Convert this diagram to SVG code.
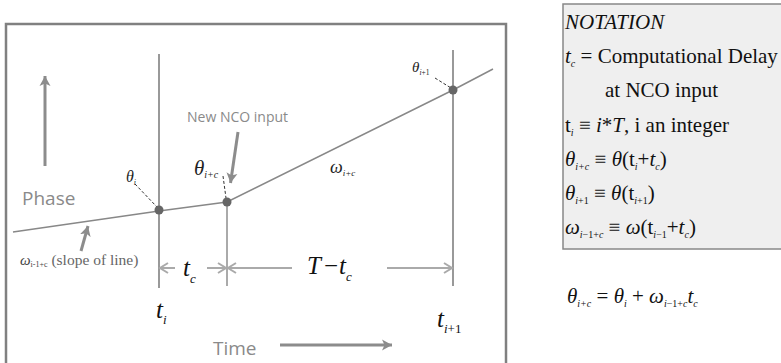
<svg xmlns="http://www.w3.org/2000/svg" width="781" height="363" viewBox="0 0 781 363">
<defs>
<style>
.ser{font-family:"Liberation Serif","Times New Roman",serif;}
.it{font-style:italic;}
.san{font-family:"Open Sans","Noto Sans",sans-serif;fill:#8a8a8a;}
.grid{stroke:#999;stroke-width:2;fill:none;}
.dim{stroke:#aaa;stroke-width:2;fill:none;}
.big{stroke:#8c8c8c;stroke-width:3;fill:none;}
.lead{stroke:#333;stroke-width:1;stroke-dasharray:3,2;fill:none;}
.dot{fill:#666;}
</style>
<marker id="chev" viewBox="-10 -6 12 12" refX="0" refY="0" markerWidth="12" markerHeight="12" markerUnits="userSpaceOnUse" orient="auto"><path d="M-8,-5 L0,0 L-8,5" fill="none" stroke="#aaa" stroke-width="2"/></marker>
<marker id="arr" viewBox="-10 -6 12 12" refX="0" refY="0" markerWidth="12" markerHeight="12" markerUnits="userSpaceOnUse" orient="auto"><path d="M-10,-5.5 L0,0 L-10,5.5 L-7.5,0 z" fill="#8c8c8c"/></marker>
</defs>
<rect width="781" height="363" fill="#fff"/>

<g id="plot-frame">
<rect x="6" y="24" width="500" height="342" fill="#fff" stroke="#808080" stroke-width="2.5"/>
</g>

<g id="connectors">
<line class="grid" x1="159" y1="54" x2="159" y2="288"/>
<line class="dim" x1="227" y1="202" x2="227" y2="286" stroke="#bbb"/>
<line class="grid" x1="453" y1="50" x2="453" y2="286"/>
<polyline points="13,232 159,211 227,202 453,90 493,69" fill="none" stroke="#888" stroke-width="1.5"/>
<line class="big" x1="45" y1="166" x2="45" y2="76" marker-end="url(#arr)"/>
<line class="big" x1="280" y1="345" x2="392" y2="345" marker-end="url(#arr)"/>
<line class="big" x1="238" y1="132" x2="230.5" y2="183" marker-end="url(#arr)"/>
<line class="big" stroke-width="2.5" x1="81" y1="251" x2="88" y2="226" marker-end="url(#arr)"/>
<line class="dim" x1="175" y1="268" x2="160" y2="268" marker-end="url(#chev)"/>
<line class="dim" x1="207" y1="268" x2="226" y2="268" marker-end="url(#chev)"/>
<line class="dim" x1="292" y1="268" x2="228" y2="268" marker-end="url(#chev)"/>
<line class="dim" x1="387" y1="268" x2="452" y2="268" marker-end="url(#chev)"/>
<line class="lead" x1="135" y1="184" x2="157" y2="207"/>
<line class="lead" x1="223" y1="176" x2="226" y2="198"/>
<line class="lead" x1="435" y1="78" x2="451" y2="88"/>
</g>

<g id="point-ti"><circle class="dot" cx="159" cy="210" r="4.5"/></g>
<g id="point-tc"><circle class="dot" cx="227" cy="202" r="4.5"/></g>
<g id="point-ti1"><circle class="dot" cx="453" cy="90" r="4.5"/></g>

<g id="labels">
<text class="san" x="22" y="205" font-size="19">Phase</text>
<text class="san" x="213" y="355" font-size="19">Time</text>
<text class="san" x="187" y="122" font-size="14">New NCO input</text>
<text class="ser it" x="126" y="182" font-size="16" fill="#222">θ<tspan font-size="8" dy="3">i</tspan></text>
<text class="ser it" x="194" y="175" font-size="21" fill="#222">θ<tspan font-size="10" dy="3">i+c</tspan></text>
<text class="ser it" x="412" y="72" font-size="15" fill="#222">θ<tspan font-size="7.5" dy="3"><tspan>i</tspan><tspan font-style="normal">+1</tspan></tspan></text>
<text class="ser it" x="330" y="173" font-size="18" fill="#222">ω<tspan font-size="9" dy="3">i+c</tspan></text>
<text class="ser" x="20" y="265" font-size="15" fill="#444"><tspan font-style="italic">ω</tspan><tspan font-size="8" dy="2">i-1+c</tspan><tspan dy="-2" fill="#666" font-size="15.5"> (slope of line)</tspan></text>
<text class="ser it" x="183" y="276" font-size="25" fill="#111">t<tspan font-size="13" dy="7">c</tspan></text>
<text class="ser it" x="307" y="274" font-size="25" fill="#111">T<tspan font-style="normal" dx="3">−</tspan><tspan dx="1">t</tspan><tspan font-size="13" dy="7">c</tspan></text>
<text class="ser it" x="156" y="318" font-size="25" fill="#111">t<tspan font-size="13" dy="6">i</tspan></text>
<text class="ser it" x="437" y="327" font-size="25" fill="#111">t<tspan font-size="13" dy="6">i<tspan font-style="normal">+1</tspan></tspan></text>
</g>

<g id="notation">
<rect x="563" y="4" width="220" height="245" fill="#efefef" stroke="#888" stroke-width="1.5"/>
<g class="ser" font-size="21" fill="#111">
<text x="565" y="29" font-style="italic">NOTATION</text>
<text x="565" y="63"><tspan font-style="italic">t</tspan><tspan font-size="10" dy="4" font-style="italic">c</tspan><tspan dy="-4"> = Computational Delay</tspan></text>
<text x="605" y="97">at NCO input</text>
<text x="565" y="132">t<tspan font-size="10" dy="4" font-style="italic">i</tspan><tspan dy="-4"> ≡ </tspan><tspan font-style="italic">i</tspan>*<tspan font-style="italic">T</tspan>, i an integer</text>
<text x="565" y="166"><tspan font-style="italic">θ</tspan><tspan font-size="10" dy="4" font-style="italic">i+c</tspan><tspan dy="-4"> ≡ </tspan><tspan font-style="italic">θ</tspan>(t<tspan font-size="10" dy="4" font-style="italic">i</tspan><tspan dy="-4">+</tspan><tspan font-style="italic">t</tspan><tspan font-size="10" dy="4" font-style="italic">c</tspan><tspan dy="-4">)</tspan></text>
<text x="565" y="200"><tspan font-style="italic">θ</tspan><tspan font-size="10" dy="4"><tspan font-style="italic">i</tspan>+1</tspan><tspan dy="-4"> ≡ </tspan><tspan font-style="italic">θ</tspan>(t<tspan font-size="10" dy="4"><tspan font-style="italic">i</tspan>+1</tspan><tspan dy="-4">)</tspan></text>
<text x="565" y="234"><tspan font-style="italic">ω</tspan><tspan font-size="10" dy="4"><tspan font-style="italic">i</tspan>−1+<tspan font-style="italic">c</tspan></tspan><tspan dy="-4"> ≡ </tspan><tspan font-style="italic">ω</tspan>(t<tspan font-size="10" dy="4"><tspan font-style="italic">i</tspan>−1</tspan><tspan dy="-4">+</tspan><tspan font-style="italic">t</tspan><tspan font-size="10" dy="4" font-style="italic">c</tspan><tspan dy="-4">)</tspan></text>
</g>
</g>

<g id="equation">
<text class="ser" x="567" y="303" font-size="21" fill="#111"><tspan font-style="italic">θ</tspan><tspan font-size="10" dy="4" font-style="italic">i+c</tspan><tspan dy="-4"> = </tspan><tspan font-style="italic">θ</tspan><tspan font-size="10" dy="4" font-style="italic">i</tspan><tspan dy="-4"> + </tspan><tspan font-style="italic">ω</tspan><tspan font-size="10" dy="4"><tspan font-style="italic">i</tspan>−1+<tspan font-style="italic">c</tspan></tspan><tspan dy="-4" font-style="italic">t</tspan><tspan font-size="10" dy="4" font-style="italic">c</tspan></text>
</g>
</svg>
